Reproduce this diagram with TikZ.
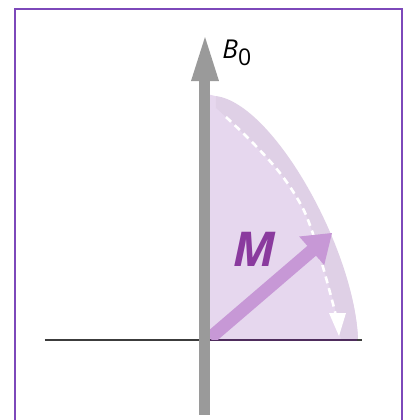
\documentclass[tikz,border=0pt]{standalone}
\usepackage{fontspec}
\setmainfont{Open Sans}
\usetikzlibrary{arrows.meta}
\definecolor{framec}{HTML}{7D48BA}
\definecolor{diskc}{HTML}{E6D7EE}
\definecolor{bandc}{HTML}{DFD0E6}
\definecolor{axisc}{HTML}{9A9A9A}
\definecolor{marrc}{HTML}{C798D6}
\definecolor{mtext}{HTML}{8A3A9E}
\definecolor{linec}{HTML}{3C3C3C}
\definecolor{lineright}{HTML}{4E2C5C}
\tikzset{
  framestyle/.style={draw=framec, line width=1pt},
  dashstyle/.style={draw=white, line width=1.3pt, dash pattern=on 3.5pt off 2.5pt},
  labelstyle/.style={inner sep=0pt, font=\itshape}
}
\begin{document}
\begin{tikzpicture}[x=0.5pt,y=-0.5pt]
\useasboundingbox (0,0) rectangle (404,420);
\fill[white] (0,0) rectangle (404,420);
% frame
\draw[framestyle] (15.5,440) -- (15.5,8.5) -- (402.5,8.5) -- (402.5,440);
% quarter disk
\fill[diskc] (205,340) -- (205,94) .. controls (270,100) and (355,250) .. (358,340) -- cycle;
% darker band near rim
\fill[bandc] (216,96) .. controls (274,104) and (355,250) .. (358,340)
  -- (341,340) -- plot[smooth, tension=0.6] coordinates {(340,334) (333,300) (323,267) (311,228) (300,203) (280,173) (253,143) (226,117) (216,108)} -- cycle;
% dashed rotation arrow
\draw[dashstyle] plot[smooth, tension=0.6] coordinates {(226,117) (253,143) (280,173) (300,203) (311,228) (323,267) (332,300) (336,316)};
\fill[white] (329,313) -- (346,313) -- (339,336) -- cycle;
% horizontal axis
\draw[linec, line width=1pt] (45,340) -- (205,340);
\draw[lineright, line width=1pt] (205,340) -- (357,340);
\draw[linec, line width=1pt] (357,340) -- (362,340);
% M arrow
\begin{scope}
\clip (205,80) rectangle (400,339.5);
\fill[marrc] (205.7,333.1) -- (307.4,245.9) -- (299.2,236.5) -- (332,233) -- (324.2,265.1) -- (316,255.7) -- (214.3,342.9) -- cycle;
\end{scope}
% vertical axis B0
\fill[axisc] (199,81) rectangle (210,415);
\fill[axisc] (191,81) -- (219,81) -- (205,37) -- cycle;
% labels
\node[labelstyle, text=mtext, font=\bfseries\itshape\fontsize{24}{24}\selectfont] (mlabel) at (255,249) {M};
\node[labelstyle, anchor=base west, font=\fontsize{13}{14}\selectfont] (blabel) at (222,58) {\textit{B}\raisebox{-3.5pt}{\fontsize{11.5}{12}\selectfont 0}};
\end{tikzpicture}
\end{document}
